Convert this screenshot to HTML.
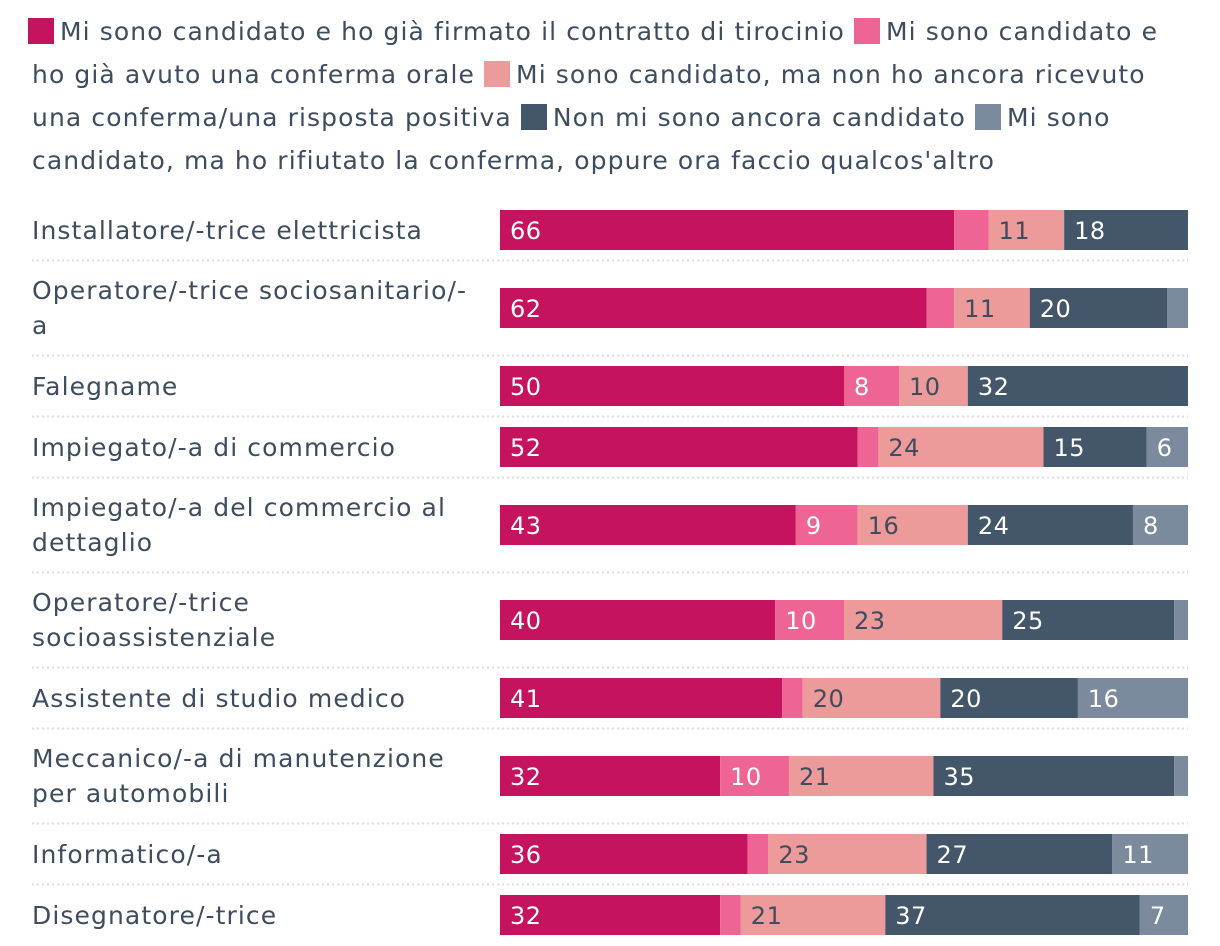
<!DOCTYPE html>
<html><head><meta charset="utf-8"><style>
body{margin:0;background:#fff;width:1220px;height:946px;overflow:hidden;font-family:"DejaVu Sans","Liberation Sans",sans-serif;color:#3d4c5e}
#legend{position:absolute;left:28px;top:10px;width:1190px;font-size:25px;line-height:43px;letter-spacing:1.1px;white-space:nowrap}
.sw{display:inline-block;width:26px;height:26px;vertical-align:-4px;margin-right:6px}
svg{position:absolute;left:0;top:0}
</style></head><body>
<div id="legend">
<span><span class="sw" style="background:#c6135f"></span>Mi sono candidato e ho già firmato il contratto di tirocinio</span>
<span><span class="sw" style="background:#ee6494"></span>Mi sono candidato e<br><span style="margin-left:4px"></span>ho già avuto una conferma orale</span>
<span><span class="sw" style="background:#ec9a9a"></span>Mi sono candidato, ma non ho ancora ricevuto<br><span style="margin-left:4px"></span>una conferma/una risposta positiva</span>
<span><span class="sw" style="background:#44566a"></span>Non mi sono ancora candidato</span>
<span><span class="sw" style="background:#7b8a9c"></span>Mi sono<br><span style="margin-left:4px"></span>candidato, ma ho rifiutato la conferma, oppure ora faccio qualcos'altro</span>
</div>
<svg id="chart" width="1220" height="946"></svg>
<script>
const categories=[["Installatore/-trice elettricista"],["Operatore/-trice sociosanitario/-","a"],["Falegname"],["Impiegato/-a di commercio"],["Impiegato/-a del commercio al","dettaglio"],["Operatore/-trice","socioassistenziale"],["Assistente di studio medico"],["Meccanico/-a di manutenzione","per automobili"],["Informatico/-a"],["Disegnatore/-trice"]];
const signed=[66,62,50,52,43,40,41,32,36,32];
const oral=[5,4,8,3,9,10,3,10,3,3];
const pending=[11,11,10,24,16,23,20,21,23,21];
const notApplied=[18,20,32,15,24,25,20,35,27,37];
const refused=[0,3,0,6,8,2,16,2,11,7];
const series=[signed,oral,pending,notApplied,refused];
const colors=["#c6135f","#ee6494","#ec9a9a","#44566a","#7b8a9c"];
const textColors=["#fff","#fff","#3d4c5e","#fff","#fff"];
const names=["signed","oral","pending","not-applied","refused"];
const svg=document.getElementById('chart');const NS="http://www.w3.org/2000/svg";
const x0=500,x1=1188;const xs=v=>x0+v/100*(x1-x0);
let rowTop=210;
for(let i=0;i<categories.length;i++){
  const two=categories[i].length>1;
  const blockH=two?74:40;
  const barY=rowTop+(blockH-40)/2;
  const t=document.createElementNS(NS,'text');
  
  
  t.setAttribute('x',32);t.setAttribute('font-size','25');t.setAttribute('letter-spacing','1.1');t.setAttribute('fill','#3d4c5e');
  const base=two?barY+11:barY+29;
  categories[i].forEach((ln,k)=>{const ts=document.createElementNS(NS,'tspan');ts.setAttribute('x',32);ts.setAttribute('y',base+k*35);ts.textContent=ln;t.appendChild(ts);});
  svg.appendChild(t);
  let acc=0;
  for(let s=0;s<series.length;s++){
    const v=series[s][i];if(v<=0){continue;}
    const r=document.createElementNS(NS,'rect');
    
    
    r.setAttribute('x',xs(acc));r.setAttribute('y',barY);r.setAttribute('width',xs(acc+v)-xs(acc));r.setAttribute('height',40);r.setAttribute('fill',colors[s]);
    svg.appendChild(r);
    if(v>=6){const l=document.createElementNS(NS,'text');
      
      
      l.setAttribute('x',xs(acc)+10);l.setAttribute('y',barY+29);l.setAttribute('font-size','24');l.setAttribute('letter-spacing','0.5');l.setAttribute('fill',textColors[s]);l.textContent=v;svg.appendChild(l);}
    acc+=v;
  }
  const sy=rowTop+blockH+10.5;
  if(i<categories.length-1){
    const ln=document.createElementNS(NS,'line');
    
    
    ln.setAttribute('x1',32);ln.setAttribute('x2',1188);ln.setAttribute('y1',sy);ln.setAttribute('y2',sy);
    ln.setAttribute('stroke','#dcdcdc');ln.setAttribute('stroke-width','2');ln.setAttribute('stroke-dasharray','2 3');
    svg.appendChild(ln);
  }
  rowTop=rowTop+blockH+21;
}
</script>
</body></html>
